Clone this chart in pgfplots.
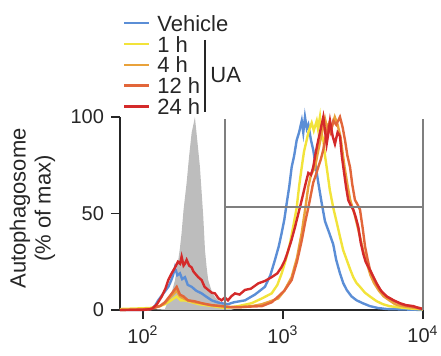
\documentclass[border=0pt]{standalone}
\usepackage{pgfplots}
\pgfplotsset{compat=1.18}
\usepackage{fontspec}
\setmainfont{Liberation Sans}
\definecolor{cveh}{HTML}{5B8ED6}
\definecolor{c1h}{HTML}{F2E33A}
\definecolor{c4h}{HTML}{E9A23B}
\definecolor{c12h}{HTML}{E2663A}
\definecolor{c24h}{HTML}{D42A2A}
\definecolor{gatec}{HTML}{7F7F7F}
\definecolor{isoc}{HTML}{BDBDBD}
\begin{document}
\begin{tikzpicture}
\useasboundingbox (0,0) rectangle (220.5pt,178pt);
\begin{axis}[
  at={(60pt,23pt)}, anchor=south west,
  scale only axis, width=151.5pt, height=96.5pt,
  xmin=1.836, xmax=4.0, ymin=0, ymax=100,
  clip=false,
  axis x line*=bottom, axis y line*=left,
  axis line style={line width=0.6pt, color=black!85},
  xtick={2,3,4}, xticklabels={10\textsuperscript{2},10\textsuperscript{3},10\textsuperscript{4}},
  ytick={0,50,100},
  tick align=outside, major tick length=4.5pt,
  tick style={line width=0.6pt, color=black!85},
  minor tick num=0,
  /pgf/number format/assume math mode=true,
  tick label style={font=\fontsize{10}{12}\selectfont, text=black!85},
  ylabel={Autophagosome\\(\% of max)},
  ylabel style={at={(axis description cs:-0.2888,0.526)}, anchor=center, align=center, font=\fontsize{11}{12.5}\selectfont, text=black!85},
  legend cell align=left,
  legend image code/.code={\draw[#1] (0pt,0pt) -- (12.5pt,0pt); \path (16pt,0pt);},
  legend style={at={(axis description cs:0.0099,1.527)}, anchor=north west, draw=none, fill=none, inner sep=0pt, outer sep=0pt, row sep=2.4pt, font=\fontsize{11}{13}\selectfont, nodes={inner sep=0pt, text height=8pt, text depth=0pt, text=black!85}},
]
% isotype control (grey filled)
\addplot[fill=isoc, draw=none, forget plot] coordinates {
(2.05,0)(2.157,0.5)(2.181,5)(2.205,9)(2.229,15.5)(2.252,26)(2.264,32)(2.276,40)(2.29,52)(2.312,66)(2.33,80)(2.348,92)(2.36,96)(2.371,100)(2.385,90)(2.407,74)(2.42,60)(2.431,48)(2.443,31)(2.455,22)(2.466,15.5)(2.49,10)(2.514,6.7)(2.562,3.5)(2.607,1)(2.65,0)};
% Vehicle
\addplot[cveh, line width=1.2pt] coordinates {
(1.836,0)(2.0,0)(2.06,0.5)(2.085,2)(2.109,5)(2.14,8)(2.181,12)(2.2,15)(2.215,18)(2.229,22)(2.245,18)(2.264,19)(2.28,16)(2.3,17)(2.32,13)(2.348,12)(2.38,10)(2.419,8.6)(2.45,7)(2.491,5)(2.53,4)(2.562,3.5)(2.607,3)(2.65,4)(2.729,5)(2.8,8)(2.871,12)(2.91,18)(2.943,26)(2.97,33)(2.991,40)(3.01,47)(3.026,55)(3.045,64)(3.062,74)(3.08,80)(3.098,88)(3.115,92)(3.134,98)(3.145,92)(3.157,100)(3.17,94)(3.181,96)(3.2,88)(3.216,83)(3.235,74)(3.252,66)(3.275,56)(3.3,46)(3.33,40)(3.359,34)(3.38,26)(3.407,19)(3.43,14)(3.455,10.4)(3.49,7)(3.526,5)(3.57,3.5)(3.621,2)(3.68,1)(3.741,0.5)(3.85,0.3)(4.0,0)};
\addlegendentry{Vehicle}
% 1 h
\addplot[c1h, line width=1.2pt] coordinates {
(1.836,0.5)(2.05,1)(2.12,2)(2.157,3)(2.2,5)(2.241,7)(2.27,5)(2.3,5)(2.35,4)(2.4,3)(2.5,2)(2.586,1)(2.68,2)(2.776,3.5)(2.85,6)(2.919,8.6)(2.96,13)(2.991,19)(3.02,26)(3.05,34.5)(3.075,44)(3.098,53)(3.115,64)(3.134,74)(3.15,82)(3.169,88)(3.185,93)(3.205,97)(3.22,93)(3.241,98)(3.25,94)(3.264,100)(3.275,92)(3.288,88)(3.3,80)(3.312,74)(3.335,62)(3.359,53)(3.385,45)(3.407,38)(3.43,31)(3.455,26)(3.48,21)(3.502,17)(3.525,14)(3.55,12)(3.585,9)(3.621,7)(3.67,4.5)(3.714,3)(3.76,2)(3.812,1.5)(3.9,0.8)(4.0,0.3)};
\addlegendentry{1 h}
% 4 h
\addplot[c4h, line width=1.2pt] coordinates {
(1.836,0)(2.05,0.5)(2.12,2)(2.157,3.5)(2.2,7)(2.241,10)(2.264,7)(2.29,6)(2.321,5)(2.37,4)(2.419,3.5)(2.48,2.5)(2.55,2)(2.62,1.5)(2.7,1.5)(2.78,2)(2.85,3)(2.91,4.5)(2.966,6)(3.01,10)(3.062,17)(3.1,27)(3.134,40)(3.16,53)(3.181,64)(3.2,70)(3.229,74)(3.25,82)(3.276,91)(3.3,99)(3.315,94)(3.33,97)(3.35,95)(3.37,100)(3.39,96)(3.41,90)(3.425,82)(3.44,74)(3.46,65)(3.48,57)(3.51,50)(3.53,44)(3.55,38)(3.575,30)(3.6,24)(3.625,18)(3.65,14)(3.685,10)(3.72,7)(3.76,5)(3.8,3)(3.85,2)(3.9,1.5)(4.0,0.5)};
\addlegendentry{4 h}
% 12 h
\addplot[c12h, line width=1.2pt] coordinates {
(1.836,0)(2.05,0.5)(2.12,2)(2.157,4)(2.2,8)(2.241,12)(2.264,8)(2.29,7)(2.321,5)(2.37,4.5)(2.419,3.5)(2.49,2.5)(2.562,2)(2.63,1.5)(2.7,1.5)(2.78,1.8)(2.85,2)(2.92,4)(2.966,7)(3.01,10)(3.062,15.5)(3.1,25)(3.134,36)(3.16,46)(3.181,53)(3.2,60)(3.216,66)(3.235,70)(3.252,74)(3.27,78)(3.288,83)(3.305,90)(3.324,95)(3.34,92)(3.36,98)(3.38,96)(3.407,100)(3.425,95)(3.443,88)(3.46,80)(3.479,74)(3.495,65)(3.514,57)(3.53,55)(3.55,52)(3.57,42)(3.586,33)(3.605,26)(3.621,21)(3.65,16)(3.679,12)(3.71,9)(3.741,7)(3.8,4.5)(3.859,2.6)(3.92,1.8)(3.979,1)(4.0,0.5)};
\addlegendentry{12 h}
% 24 h
\addplot[c24h, line width=1.2pt] coordinates {
(1.836,0)(2.0,0)(2.062,0.5)(2.1,3)(2.134,7)(2.16,11)(2.181,15.5)(2.205,19)(2.229,22)(2.25,25)(2.265,24)(2.276,27.6)(2.29,23)(2.3,24)(2.312,26)(2.33,23)(2.348,22)(2.36,20)(2.371,19)(2.395,17)(2.419,15.5)(2.44,12)(2.466,10.4)(2.49,9)(2.514,8.6)(2.54,6)(2.562,5)(2.585,6.5)(2.607,5)(2.63,7)(2.657,8.6)(2.69,8)(2.729,10.4)(2.77,11)(2.824,13.8)(2.87,15)(2.919,17)(2.96,19)(2.991,22.4)(3.015,26)(3.038,31)(3.06,36)(3.086,43)(3.11,50)(3.134,57)(3.16,65)(3.181,71)(3.2,70)(3.216,74)(3.235,82)(3.252,88)(3.27,94)(3.288,100)(3.3,93)(3.312,86)(3.325,92)(3.336,98)(3.355,90)(3.371,86)(3.39,92)(3.407,90)(3.42,80)(3.431,74)(3.45,64)(3.466,57)(3.485,54)(3.502,52)(3.52,48)(3.538,43)(3.555,35)(3.574,29)(3.59,25)(3.609,22.4)(3.64,18)(3.669,13.8)(3.7,10)(3.741,7)(3.79,5)(3.836,3.5)(3.88,2.5)(3.931,2)(3.97,1)(4.0,0.5)};
\addlegendentry{24 h}
% gate
\addplot[gatec, line width=0.6pt, forget plot] coordinates {(2.586,0)(2.586,99)};
\addplot[gatec, line width=0.6pt, forget plot] coordinates {(4.0,0)(4.0,99)};
\addplot[gatec, line width=0.6pt, forget plot] coordinates {(2.586,53.4)(4.0,53.4)};
% bracket
\draw[line width=0.6pt, black!85] (axis description cs:0.2805,1.399) -- (axis description cs:0.2805,1.026);
\node[anchor=west, inner sep=0pt, font=\fontsize{11}{13}\selectfont, text=black!85] at (axis description cs:0.297,1.218) {UA};
\end{axis}
\end{tikzpicture}
\end{document}
